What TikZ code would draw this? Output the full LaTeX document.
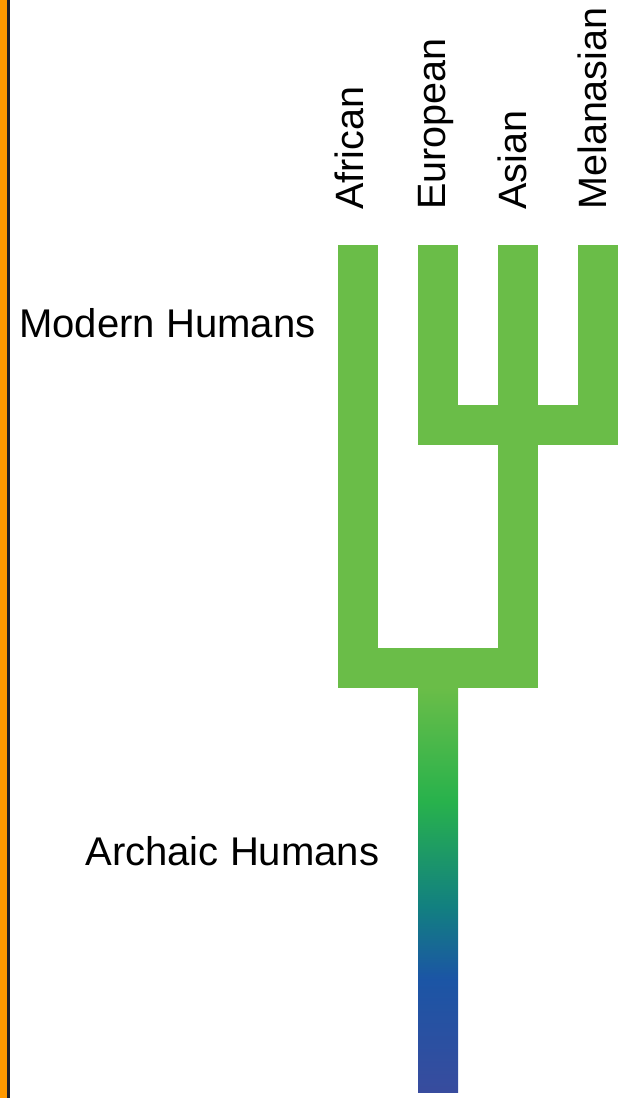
\documentclass[tikz,border=0pt]{standalone}
\usepackage{fontspec}
\setmainfont{Liberation Sans}
\usetikzlibrary{positioning}

\definecolor{treegreen}{RGB}{106,189,72}
\definecolor{brightgreen}{RGB}{40,178,76}
\definecolor{tealmid}{RGB}{18,128,128}
\definecolor{deepblue}{RGB}{27,85,165}
\definecolor{indigoend}{RGB}{56,76,158}
\definecolor{sideorange}{RGB}{255,153,0}
\definecolor{sidedark}{RGB}{30,30,40}

% green at the fork, fading to blue at the bottom of the trunk
\pgfdeclareverticalshading{archaic}{100bp}{color(0bp)=(indigoend); color(25bp)=(indigoend); color(39bp)=(deepblue); color(48bp)=(tealmid); color(61bp)=(brightgreen); color(75bp)=(treegreen); color(100bp)=(treegreen)}

\begin{document}
\begin{tikzpicture}[
    x=0.02cm, y=-0.02cm,
    font=\fontsize{22.5}{27}\selectfont,
    branch/.style={line width=0.8cm, draw=treegreen, line join=miter},
    trunk/.style={shading=archaic},
    branch label/.style={rotate=90, anchor=base west, inner sep=0},
    era label/.style={anchor=base west, inner sep=0, font=\fontsize{22.8}{27}\selectfont}
]
    \useasboundingbox (0,0) rectangle (619,1098);

    % =========================================================
    % SIDE STRIPE
    % =========================================================
    \fill[sideorange] (0,0) rectangle (7,1098);
    \fill[sidedark] (7,0) rectangle (10,1098);

    % =========================================================
    % POPULATION LABELS
    % =========================================================
    \foreach \name/\xb/\txt in {african/363/African, european/445/European, asian/526/Asian, melanesian/606/Melanasian} {
        \node[branch label] (\name) at (\xb,210) {\txt};
    }

    % Tips, forks and root of the tree
    \coordinate (tipA) at (358,245);
    \coordinate (tipE) at (438,245);
    \coordinate (tipS) at (518,245);
    \coordinate (tipM) at (598,245);
    \coordinate (forkE) at (438,425);
    \coordinate (forkM) at (598,425);
    \coordinate (forkA) at (358,668);
    \coordinate (forkS) at (518,668);

    % =========================================================
    % MODERN BRANCHES
    % =========================================================
    \draw[branch] (tipA) -- (forkA) -- (forkS) -- (tipS);
    \draw[branch] (tipE) -- (forkE) -- (forkM) -- (tipM);

    % Archaic trunk below the fork
    \shade[trunk] (418,688) rectangle (458,1092);

    % Era labels
    \node[era label] (modern) at (19,337) {Modern Humans};
    \node[era label] (archaic) at (85,865) {Archaic Humans};

\end{tikzpicture}
\end{document}
